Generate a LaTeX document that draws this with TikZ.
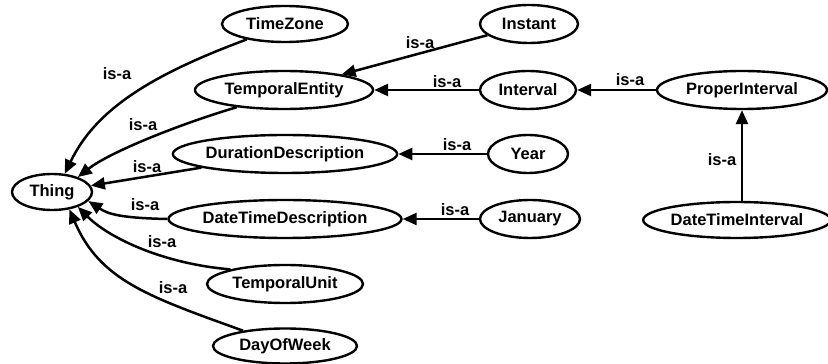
\documentclass[tikz,border=0pt]{standalone}
\usepackage{fontspec}
\setmainfont{Liberation Sans}
\usetikzlibrary{shapes.geometric,arrows.meta}
\begin{document}
\begin{tikzpicture}[x=1pt,y=1pt,
  cls/.style={ellipse,draw,line width=2.4pt,inner sep=0pt,font=\fontsize{16.5}{19}\selectfont\bfseries},
  isa/.style={font=\fontsize{16.5}{19}\selectfont\bfseries,inner sep=0pt},
  arr/.style={line width=2.5pt,-{Triangle[length=14pt,width=12pt]}}]
\useasboundingbox (0,0) rectangle (828,364);
\node[cls,minimum width=80pt,minimum height=36pt] (thing) at (52,172) {Thing};
\node[cls,minimum width=126pt,minimum height=36pt] (tz) at (285,340) {TimeZone};
\node[cls,minimum width=178pt,minimum height=38pt] (te) at (284,274) {TemporalEntity};
\node[cls,minimum width=224pt,minimum height=38pt] (dd) at (285,210) {DurationDescription};
\node[cls,minimum width=230pt,minimum height=38pt] (dtd) at (285,145) {DateTimeDescription};
\node[cls,minimum width=156pt,minimum height=38pt] (tu) at (285,80) {TemporalUnit};
\node[cls,minimum width=144pt,minimum height=35pt] (dow) at (285,18) {DayOfWeek};
\node[cls,minimum width=98pt,minimum height=38pt] (inst) at (529,340) {Instant};
\node[cls,minimum width=96pt,minimum height=38pt] (intv) at (528,274) {Interval};
\node[cls,minimum width=80pt,minimum height=38pt] (year) at (528,210) {Year};
\node[cls,minimum width=100pt,minimum height=38pt] (jan) at (530,145) {January};
\node[cls,minimum width=170pt,minimum height=38pt] (pi) at (742,274) {ProperInterval};
\node[cls,minimum width=180pt,minimum height=36pt] (dti) at (737,144) {DateTimeInterval};
% labels
\node[isa] (l1) at (117,290) {is-a};
\node[isa] (l2) at (143,239) {is-a};
\node[isa] (l3) at (147,197) {is-a};
\node[isa] (l4) at (145,159) {is-a};
\node[isa] (l5) at (162,122) {is-a};
\node[isa] (l6) at (173,76) {is-a};
\node[isa] (l7) at (420,321) {is-a};
\node[isa] (l8) at (447,282) {is-a};
\node[isa] (l9) at (457,219) {is-a};
\node[isa] (l10) at (455,154) {is-a};
\node[isa] (l11) at (630,284) {is-a};
\node[isa] (l12) at (722,204) {is-a};
% edges
\draw[arr] (tz.202) .. controls (148,288) and (95,253) .. (thing.55);
\draw[arr] (te.200) .. controls (180,240) and (110,212) .. (thing.30);
\draw[arr] (dd) -- (thing);
\draw[arr] (dtd.west) .. controls (120,146) and (108,150) .. (thing.-14);
\draw[arr] (tu.165) .. controls (165,100) and (110,125) .. (thing.-30);
\draw[arr] (dow.160) .. controls (150,67) and (100,83) .. (thing.-45);
\draw[arr] (inst) -- (te);
\draw[arr] (intv) -- (te);
\draw[arr] (year) -- (dd);
\draw[arr] (jan) -- (dtd);
\draw[arr] (pi) -- (intv);
\draw[arr] (dti.north -| pi) -- (pi.south);
\end{tikzpicture}
\end{document}
